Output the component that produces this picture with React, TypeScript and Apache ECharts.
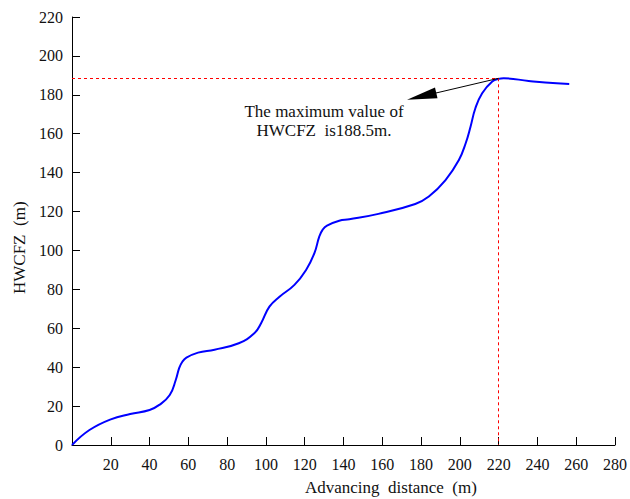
import React, { useEffect, useRef } from "react";
import * as echarts from "echarts";

const distance = [0, 9, 20, 30, 40, 45, 50.4, 53.5, 55.3, 56.9, 59, 65, 73.5, 86, 94, 97.5, 101.8, 107, 114.7, 120.7, 125, 127.5, 129.2, 131.5, 137.8, 143, 158, 177, 184, 192.6, 199.5, 203, 205.5, 208, 211.5, 216.7, 220, 222.6, 235.5, 244, 256.4];
const hwcfz = [0, 7.7, 13.2, 15.9, 18.0, 20.6, 25.7, 33.4, 39.6, 42.8, 44.9, 47.5, 49.0, 52.3, 57.4, 62.6, 71.1, 76.2, 82.3, 90, 98.6, 107.1, 110.6, 112.8, 115.3, 116, 118.8, 123.9, 127.7, 136.2, 146.5, 155.1, 163.6, 173.1, 180.8, 186.8, 188.2, 188.5, 187.1, 186.3, 185.6];

const maxX = 220;
const maxY = 188.5;
const arrowEnd = [180.3, 179.2];
const noteLines = ["The maximum value of", "HWCFZ  is188.5m."];

const FONT = "Liberation Serif";
const red = { color: "#ff0000", type: [3, 3], width: 1 };
const black = { color: "#000", type: "solid", width: 1 };

export default function App() {
  const ref = useRef<HTMLDivElement>(null);
  useEffect(() => {
    document.body.style.margin = "0";
    const chart = echarts.init(ref.current!, null, { renderer: "svg" });
    const points = distance.map((d, i) => [d, hwcfz[i]]);
    chart.setOption({
      animation: false,
      backgroundColor: "#ffffff",
      grid: { left: 72, right: 14, top: 17, bottom: 54 },
      xAxis: {
        type: "value",
        min: 0,
        max: 280,
        interval: 20,
        splitLine: { show: false },
        axisLine: { lineStyle: { color: "#000", width: 1 } },
        axisTick: { inside: true, length: 8, lineStyle: { color: "#000" } },
        axisLabel: {
          color: "#111",
          fontFamily: FONT,
          fontSize: 16,
          margin: 11,
          formatter: (v: number) => (v === 0 ? "" : String(v)),
        },
      },
      yAxis: {
        type: "value",
        min: 0,
        max: 220,
        interval: 20,
        splitLine: { show: false },
        axisLine: { show: true, lineStyle: { color: "#000", width: 1 } },
        axisTick: { show: true, inside: true, length: 8, lineStyle: { color: "#000" } },
        axisLabel: { color: "#111", fontFamily: FONT, fontSize: 16, margin: 9 },
      },
      graphic: [
        {
          type: "text",
          left: 305,
          top: 479,
          style: { text: "Advancing  distance  (m)", font: `17px "${FONT}"`, fill: "#111" },
        },
        {
          type: "text",
          x: 11,
          y: 294,
          rotation: Math.PI / 2,
          style: { text: "HWCFZ  (m)", font: `17px "${FONT}"`, fill: "#111" },
        },
        {
          type: "text",
          x: 324,
          y: 102,
          style: {
            text: noteLines.join("\n"),
            font: `17px "${FONT}"`,
            fill: "#111",
            align: "center",
            lineHeight: 19,
          },
        },
      ],
      series: [
        {
          type: "line",
          data: points,
          smooth: 0.45,
          showSymbol: false,
          lineStyle: { color: "#0000ff", width: 2 },
          markLine: {
            silent: true,
            label: { show: false },
            animation: false,
            data: [
              [
                { coord: [0, maxY], symbol: "none", lineStyle: red },
                { coord: [maxX, maxY], symbol: "none", lineStyle: red },
              ],
              [
                { coord: [maxX, maxY], symbol: "none", lineStyle: red },
                { coord: [maxX, 0], symbol: "none", lineStyle: red },
              ],
              [
                { coord: [maxX, maxY], symbol: "none", lineStyle: black },
                {
                  coord: arrowEnd,
                  symbol: "path://M5,0L10,30L0,30Z",
                  symbolSize: [11, 30],
                  itemStyle: { color: "#000" },
                  lineStyle: black,
                },
              ],
            ],
            lineStyle: red,
          },
        },
      ],
    });
    return () => chart.dispose();
  }, []);
  return <div ref={ref} style={{ width: 630, height: 499 }} />;
}
